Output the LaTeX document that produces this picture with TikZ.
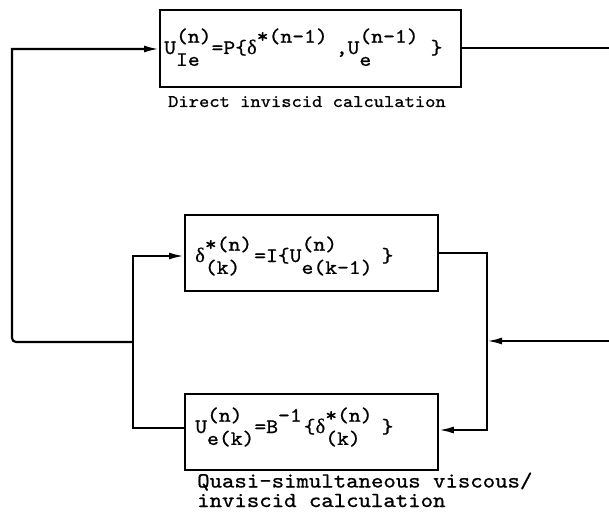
\documentclass[tikz,border=0pt]{standalone}
\usepackage{fontspec}
\newfontfamily\twfont[FakeBold=0.9,FakeStretch=1.1]{lmmono10-regular.otf}
\newfontfamily\grkfont[FakeBold=0.6]{Liberation Serif}
\usetikzlibrary{arrows.meta}

% typewriter-style raised/lowered index pair, left aligned
\newcommand\supsub[2]{{%
  \setbox0\hbox{#1}\setbox2\hbox{#2}%
  \dimen0=\wd0 \ifdim\wd2>\dimen0 \dimen0=\wd2\fi
  \rlap{\raisebox{0.55em}{\copy0}}\rlap{\raisebox{-0.58em}{\copy2}}\hskip\dimen0}}
\newcommand\dlt{{\grkfont δ}}

\tikzset{
  blockbox/.style={draw, line width=1.9pt, rectangle, inner sep=0pt, anchor=north west},
  eqtext/.style={inner sep=0pt, anchor=base west, font=\twfont\fontsize{20.5}{22}\selectfont},
  captop/.style={inner sep=0pt, anchor=base west, font=\twfont\fontsize{17.8}{20}\selectfont},
  capbot/.style={inner sep=0pt, anchor=base west, align=left, font=\twfont\fontsize{21.5}{19.5}\selectfont},
  wire/.style={line width=2.2pt},
  arr/.style={wire, -{Latex[length=15pt,width=7pt]}},
}

\begin{document}
\begin{tikzpicture}[x=1pt, y=-1pt]
  \fill[white] (0,0) rectangle (609,513);
  \useasboundingbox (0,0) rectangle (609,513);

  % blocks
  \node[blockbox, minimum width=301pt, minimum height=77pt] (inv) at (159,9) {};
  \node[blockbox, minimum width=253pt, minimum height=76pt] (vis) at (184,214) {};
  \node[blockbox, minimum width=253pt, minimum height=76pt] (bl) at (184,393) {};

  % formulas
  \node[eqtext] (invEq) at (164,54)
    {U\supsub{(n)}{Ie}=P\{\dlt\supsub{*(n-1)}{}\hskip8pt,U\supsub{(n-1)}{e}\hskip12pt\}};
  \node[eqtext] (visEq) at (195,262)
    {\dlt\supsub{*(n)}{(k)}\hskip2pt=I\{U\supsub{(n)}{e(k-1)}\hskip9pt\}};
  \node[eqtext] (blEq) at (195,433)
    {U\supsub{(n)}{e(k)}=B\supsub{-1}{}\hskip2pt\{\dlt\supsub{*(n)}{(k)}\hskip9pt\}};

  % captions
  \node[captop] (capInv) at (168,107) {Direct inviscid calculation};
  \node[capbot] (capBl) at (197,507) {Quasi-simultaneous viscous/\\inviscid calculation};

  % routing points
  \coordinate (outTop) at (609,48);
  \coordinate (inRight) at (609,341);
  \coordinate (jRight) at (487,341);
  \coordinate (rTop) at (487,253);
  \coordinate (rBot) at (487,430);
  \coordinate (lTop) at (133,256);
  \coordinate (lBot) at (133,428);
  \coordinate (jLeft) at (133,342);
  \coordinate (oBot) at (12,342);
  \coordinate (oTop) at (12,49);

  % direct inviscid output
  \draw[wire] (inv.east |- outTop) -- (outTop);
  % feedback to the inviscid block
  \draw[arr] (jLeft) [rounded corners=4pt] -- (oBot) [sharp corners] -- (oTop) -- (oTop -| inv.west);
  % inner viscous/inviscid loop
  \draw[arr] (lBot -| bl.west) -- (lBot) -- (lTop) -- (lTop -| vis.west);
  \draw[arr] (rTop -| vis.east) -- (rTop) -- (rBot) -- (rBot -| bl.east);
  % incoming line on the right
  \draw[arr] (inRight) -- (jRight);
\end{tikzpicture}
\end{document}
